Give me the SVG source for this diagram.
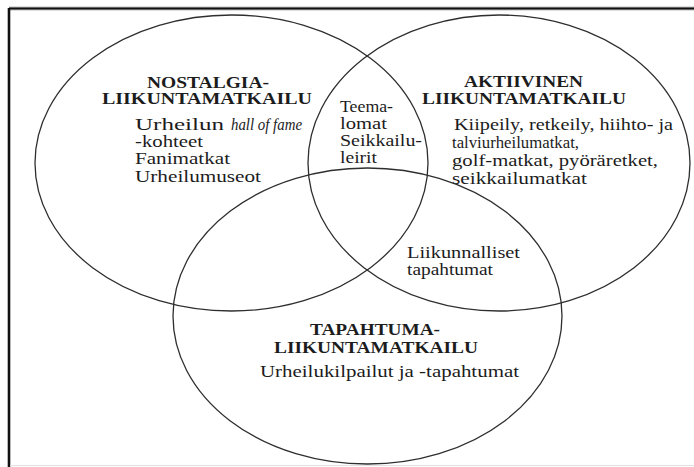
<svg xmlns="http://www.w3.org/2000/svg" width="694" height="467" viewBox="0 0 694 467">
<style>
.c{fill:none;stroke:#2e2e2e;stroke-width:1.3}
text{font-family:"Liberation Serif","Times New Roman",serif;font-size:16px;fill:#1c1c1c}
.h{font-weight:bold}
.i{font-style:italic}
</style>
<rect x="0" y="0" width="694" height="467" fill="#ffffff"/>
<g id="frame">
<line x1="9" y1="8.5" x2="694" y2="8.5" stroke="#bbb" stroke-width="4"/>
<line x1="9" y1="8.5" x2="694" y2="8.5" stroke="#111" stroke-width="2.2"/>
<line x1="9" y1="8" x2="9" y2="467" stroke="#111" stroke-width="2.6"/>
<line x1="10" y1="465.5" x2="694" y2="465.5" stroke="#e2e2e2" stroke-width="1.2"/>
</g>
<g id="nostalgia">
<ellipse class="c" cx="231.5" cy="163" rx="196.5" ry="148"/>
<text class="h" x="147" y="87.5" textLength="122" lengthAdjust="spacingAndGlyphs">NOSTALGIA-</text>
<text class="h" x="102" y="103.5" textLength="210" lengthAdjust="spacingAndGlyphs">LIIKUNTAMATKAILU</text>
<text x="135" y="129.5" textLength="89" lengthAdjust="spacingAndGlyphs">Urheilun</text>
<text class="i" x="231" y="129.5" textLength="71" lengthAdjust="spacingAndGlyphs">hall of fame</text>
<text x="135" y="146.7" textLength="68" lengthAdjust="spacingAndGlyphs">-kohteet</text>
<text x="135" y="164" textLength="95" lengthAdjust="spacingAndGlyphs">Fanimatkat</text>
<text x="135" y="181.7" textLength="126" lengthAdjust="spacingAndGlyphs">Urheilumuseot</text>
</g>
<g id="aktiivinen">
<ellipse class="c" cx="499" cy="163" rx="191" ry="148"/>
<text class="h" x="464" y="87.3" textLength="119" lengthAdjust="spacingAndGlyphs">AKTIIVINEN</text>
<text class="h" x="422" y="104" textLength="204" lengthAdjust="spacingAndGlyphs">LIIKUNTAMATKAILU</text>
<text x="454" y="130" textLength="219" lengthAdjust="spacingAndGlyphs">Kiipeily, retkeily, hiihto- ja</text>
<text x="452" y="148" textLength="127" lengthAdjust="spacingAndGlyphs">talviurheilumatkat,</text>
<text x="452" y="166" textLength="206" lengthAdjust="spacingAndGlyphs">golf-matkat, pyöräretket,</text>
<text x="452" y="184" textLength="135" lengthAdjust="spacingAndGlyphs">seikkailumatkat</text>
</g>
<g id="tapahtuma">
<ellipse class="c" cx="367.5" cy="316" rx="194.5" ry="148"/>
<text class="h" x="310" y="335" textLength="130" lengthAdjust="spacingAndGlyphs">TAPAHTUMA-</text>
<text class="h" x="274" y="353" textLength="204" lengthAdjust="spacingAndGlyphs">LIIKUNTAMATKAILU</text>
<text x="260" y="376.7" textLength="259" lengthAdjust="spacingAndGlyphs">Urheilukilpailut ja -tapahtumat</text>
</g>
<g id="teemalomat">
<text x="340" y="111.7" textLength="53" lengthAdjust="spacingAndGlyphs">Teema-</text>
<text x="340" y="129" textLength="47" lengthAdjust="spacingAndGlyphs">lomat</text>
<text x="340" y="145.7" textLength="82" lengthAdjust="spacingAndGlyphs">Seikkailu-</text>
<text x="340" y="162.7" textLength="37" lengthAdjust="spacingAndGlyphs">leirit</text>
</g>
<g id="liikunnalliset">
<text x="407" y="258.3" textLength="113" lengthAdjust="spacingAndGlyphs">Liikunnalliset</text>
<text x="407" y="275" textLength="86" lengthAdjust="spacingAndGlyphs">tapahtumat</text>
</g>
</svg>
